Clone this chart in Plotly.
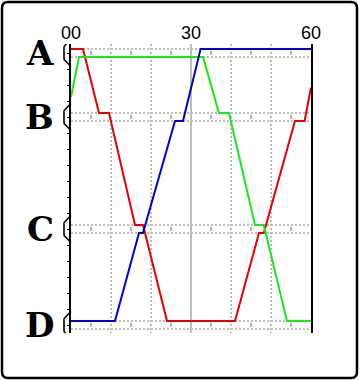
import plotly.graph_objects as go

# ---------------- data ----------------
stations = ["A", "B", "C", "D"]
station_pos = [0, 8, 22, 34]          # first track line of each station (km)
second_track = [1, 9, 23, 35]         # second track line of each station (km)

time_ticks = [0, 10, 20, 30, 40, 50, 60]
time_labels = ["00", "", "", "30", "", "", "60"]
half_hours = [5, 15, 25, 35, 45, 55]
km_ticks = [0.5, 2.5, 4.5, 6.5, 8.5, 10.5, 12.5, 14.5, 16.5, 18.5, 20.5,
            22.5, 24.5, 26.5, 28.5, 30.5, 32.5, 34.5]

red_t = [0, 3, 7, 9.5, 16, 18, 24, 41, 47, 48.2, 56, 58.4, 60]
red_y = [0, 0, 8, 8, 22, 22, 34, 34, 23, 23, 9, 9, 4.8]

green_t = [0, 2, 33, 37, 39.5, 46, 48.2, 54, 60]
green_y = [6, 1, 1, 8, 8, 22, 22, 34, 34]

blue_t = [0, 11, 17, 18, 26, 28, 32.4, 60]
blue_y = [34, 34, 23, 23, 9, 9, 0, 0]

# ---------------- geometry ----------------
W, H = 360, 380
PL, PR, PT, PB = 71, 311, 44, 333
Y_TOP, Y_BOT = -0.625, 35.5


def ypix(v):
    return PT + (v - Y_TOP) * (PB - PT) / (Y_BOT - Y_TOP)


def xp(px):
    return (px - PL) / (PR - PL)


def yp(py):
    return (PB - py) / (PB - PT)


fig = go.Figure()

for t, y, c in [(red_t, red_y, "#e40000"), (green_t, green_y, "#18e818"),
                (blue_t, blue_y, "#0000d0")]:
    fig.add_trace(go.Scatter(x=t, y=y, mode="lines",
                             line=dict(color=c, width=2),
                             hoverinfo="skip", showlegend=False))

centers = [(a + b) / 2 for a, b in zip(station_pos, second_track)]

# small 5-minute marks inside each station band
fig.add_trace(go.Scatter(
    x=[h for _ in centers for h in half_hours],
    y=[c for c in centers for _ in half_hours],
    mode="markers",
    marker=dict(symbol="line-ns", size=3, line=dict(width=2, color="#b4b4b4")),
    hoverinfo="skip", showlegend=False))

# station dots inside the hexagon markers
fig.add_trace(go.Scatter(
    x=[-1] * len(centers), y=centers, mode="markers", cliponaxis=False,
    marker=dict(symbol="square", size=2, color="black"),
    hoverinfo="skip", showlegend=False))

shapes = []


def clip_seg(p, q):
    def cut(a, b, yy):
        (ax, ay), (bx, by) = a, b
        f = (yy - ay) / (by - ay)
        return (ax + f * (bx - ax), yy)
    pts = [p, q]
    for lim, side in [(PT, -1), (PB, 1)]:
        a, b = pts
        ina = (a[1] - lim) * side <= 0
        inb = (b[1] - lim) * side <= 0
        if not ina and not inb:
            return None
        if not ina:
            a = cut(a, b, lim)
        if not inb:
            b = cut(a, b, lim)
        pts = [a, b]
    return pts


# half-hexagon station markers on the left axis
for c in centers:
    cy = ypix(c)
    verts = [(PL, cy - 13.5), (PL - 7, cy - 6.5), (PL - 7, cy + 6.5), (PL, cy + 13.5)]
    segs = []
    for i in range(3):
        s = clip_seg(verts[i], verts[i + 1])
        if s:
            segs.append(s)
    path = ""
    for a, b in segs:
        path += f"M {xp(a[0]):.5f},{yp(a[1]):.5f} L {xp(b[0]):.5f},{yp(b[1]):.5f} "
    shapes.append(dict(type="path", xref="paper", yref="paper", path=path,
                       line=dict(color="black", width=1.6), layer="above"))

# solid half-hour line
shapes.append(dict(type="line", xref="x", yref="paper", x0=time_ticks[3], x1=time_ticks[3],
                   y0=0, y1=1, line=dict(color="#c0c0c0", width=2), layer="below"))

# outer rounded border
r = 6
x0, x1, y0, y1 = 2, 357, 2, 378
bp = (f"M {xp(x0 + r)},{yp(y0)} L {xp(x1 - r)},{yp(y0)} Q {xp(x1)},{yp(y0)} {xp(x1)},{yp(y0 + r)} "
      f"L {xp(x1)},{yp(y1 - r)} Q {xp(x1)},{yp(y1)} {xp(x1 - r)},{yp(y1)} "
      f"L {xp(x0 + r)},{yp(y1)} Q {xp(x0)},{yp(y1)} {xp(x0)},{yp(y1 - r)} "
      f"L {xp(x0)},{yp(y0 + r)} Q {xp(x0)},{yp(y0)} {xp(x0 + r)},{yp(y0)} Z")
shapes.append(dict(type="path", xref="paper", yref="paper", path=bp,
                   line=dict(color="black", width=2.5), layer="above"))

annotations = []
for name, c in zip(stations, centers):
    annotations.append(dict(text=name, xref="paper", yref="y", x=xp(56), y=c,
                            xanchor="right", yanchor="middle", showarrow=False,
                            font=dict(family="DejaVu Serif", size=34, color="black",
                                      weight="bold")))

fig.update_layout(
    width=W, height=H,
    margin=dict(l=PL, r=W - PR, t=PT, b=H - PB, pad=0),
    paper_bgcolor="white", plot_bgcolor="white",
    shapes=shapes, annotations=annotations,
    xaxis=dict(range=[0, 60], side="top", tickmode="array", tickvals=time_ticks,
               ticktext=time_labels, ticks="", showline=False, zeroline=False,
               showgrid=True, gridcolor="#bdbdbd", gridwidth=2, griddash="2px,2px",
               tickfont=dict(family="Liberation Sans", size=18, color="black"),
               fixedrange=True),
    yaxis=dict(range=[Y_BOT, Y_TOP], tickmode="array",
               tickvals=station_pos + second_track, showticklabels=False, ticks="",
               showline=True, linecolor="black", linewidth=2, mirror=True,
               zeroline=False, showgrid=True, gridcolor="#bdbdbd", gridwidth=2,
               griddash="2px,2px",
               minor=dict(tickmode="array", tickvals=km_ticks, ticks="outside",
                          ticklen=2, tickwidth=1, tickcolor="black", showgrid=False),
               fixedrange=True),
)

fig.write_html("out.html")
